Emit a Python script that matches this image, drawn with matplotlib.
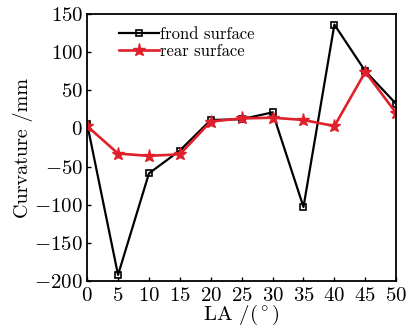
import matplotlib.pyplot as plt

plt.rcParams['font.family'] = 'serif'
plt.rcParams['font.serif'] = ['cmr10']
plt.rcParams['mathtext.fontset'] = 'cm'
plt.rcParams['axes.formatter.use_mathtext'] = True

la = [0, 5, 10, 15, 20, 25, 30, 35, 40, 45, 50]
frond = [6, -192, -59, -29, 11, 12, 21, -103, 136, 75, 32]
rear = [3, -33, -36, -34, 9, 13, 14, 11, 3, 74, 20]

fig = plt.figure(figsize=(4.11, 3.31), dpi=100)
ax = fig.add_axes([0.212, 0.151, 0.752, 0.807])

ax.plot(la, frond, color='black', lw=1.6, marker='s', ms=4.5,
        mfc='none', mew=1.2, label='frond surface')
ax.plot(la, rear, color='#e0202a', lw=1.9, marker='*', ms=9.5,
        label='rear surface')

ax.set_xlim(0, 50)
ax.set_ylim(-200, 150)
ax.set_xticks(la)
ax.set_yticks(range(-200, 151, 50))
ax.tick_params(direction='in', length=3, width=1, labelsize=15)
ax.tick_params(axis='x', pad=4)
ax.tick_params(axis='y', pad=3)
for s in ax.spines.values():
    s.set_linewidth(1.3)

ax.set_xlabel(r'LA /($^\circ$)', fontsize=15, labelpad=-1)
ax.set_ylabel('Curvature /mm', fontsize=14.5, labelpad=1)

ax.legend(loc='upper left', bbox_to_anchor=(0.07, 0.99), frameon=False,
          fontsize=12, handlelength=2.4, handletextpad=0.1,
          borderaxespad=0.2, labelspacing=0.1)

fig.savefig('out.png')
